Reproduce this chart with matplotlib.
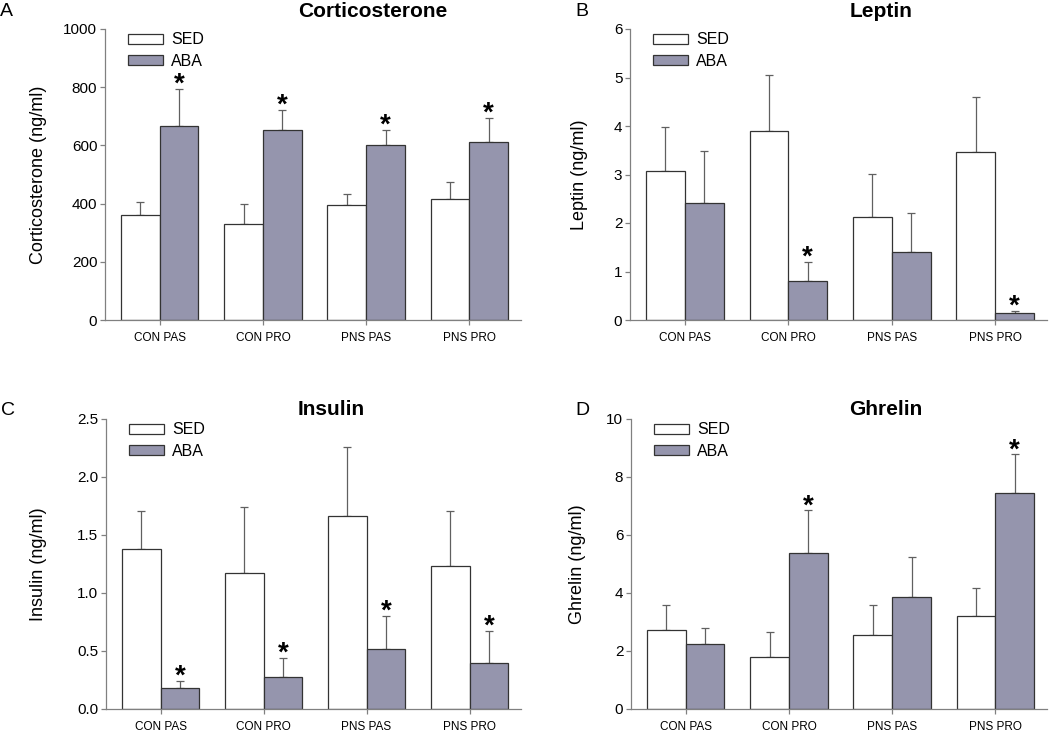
import matplotlib
matplotlib.use("Agg")
import matplotlib.pyplot as plt
import numpy as np

plt.rcParams['font.family'] = ['Liberation Sans', 'DejaVu Sans']

categories = ["CON PAS", "CON PRO", "PNS PAS", "PNS PRO"]
series_names = ["SED", "ABA"]

# Corticosterone
cort_sed = [362, 329, 395, 415]
cort_sed_err = [44, 69, 37, 59]
cort_aba = [668, 652, 602, 613]
cort_aba_err = [126, 70, 50, 81]
cort_sig = [True, True, True, True]

# Leptin
lep_sed = [3.08, 3.89, 2.12, 3.46]
lep_sed_err = [0.90, 1.17, 0.90, 1.14]
lep_aba = [2.42, 0.81, 1.40, 0.14]
lep_aba_err = [1.06, 0.39, 0.81, 0.05]
lep_sig = [False, True, False, True]

# Insulin
ins_sed = [1.38, 1.17, 1.66, 1.23]
ins_sed_err = [0.33, 0.57, 0.60, 0.48]
ins_aba = [0.18, 0.28, 0.52, 0.40]
ins_aba_err = [0.06, 0.16, 0.28, 0.27]
ins_sig = [True, True, True, True]

# Ghrelin
ghr_sed = [2.72, 1.80, 2.55, 3.20]
ghr_sed_err = [0.86, 0.85, 1.04, 0.98]
ghr_aba = [2.24, 5.39, 3.86, 7.45]
ghr_aba_err = [0.55, 1.46, 1.39, 1.33]
ghr_sig = [False, True, False, True]

panels = [
    dict(letter="A", title="Corticosterone", ylabel="Corticosterone (ng/ml)",
         sed=cort_sed, sed_err=cort_sed_err, aba=cort_aba, aba_err=cort_aba_err, sig=cort_sig,
         ylim=(0, 1000), yticks=[0, 200, 400, 600, 800, 1000], fmt="{:.0f}",
         rect=[105, 29, 521, 320], title_x=373, title_y=17, letter_x=0, letter_y=16, ylab_x=-0.139),
    dict(letter="B", title="Leptin", ylabel="Leptin (ng/ml)",
         sed=lep_sed, sed_err=lep_sed_err, aba=lep_aba, aba_err=lep_aba_err, sig=lep_sig,
         ylim=(0, 6), yticks=[0, 1, 2, 3, 4, 5, 6], fmt="{:.0f}",
         rect=[630, 29, 1047, 320], title_x=881, title_y=17, letter_x=575, letter_y=16, ylab_x=-0.10),
    dict(letter="C", title="Insulin", ylabel="Insulin (ng/ml)",
         sed=ins_sed, sed_err=ins_sed_err, aba=ins_aba, aba_err=ins_aba_err, sig=ins_sig,
         ylim=(0, 2.5), yticks=[0, 0.5, 1.0, 1.5, 2.0, 2.5], fmt="{:.1f}",
         rect=[106, 419, 521, 709], title_x=331, title_y=415, letter_x=1, letter_y=415, ylab_x=-0.142),
    dict(letter="D", title="Ghrelin", ylabel="Ghrelin (ng/ml)",
         sed=ghr_sed, sed_err=ghr_sed_err, aba=ghr_aba, aba_err=ghr_aba_err, sig=ghr_sig,
         ylim=(0, 10), yticks=[0, 2, 4, 6, 8, 10], fmt="{:.0f}",
         rect=[631, 419, 1047, 709], title_x=886, title_y=415, letter_x=575, letter_y=415, ylab_x=-0.108),
]

W, H = 1050, 731
fig = plt.figure(figsize=(W / 100, H / 100), dpi=100)

ABA_COLOR = "#9595ad"
EDGE = "#333333"
AXC = "#808080"
ERRC = "#606060"
width = 0.375

for p in panels:
    x0, y0, x1, y1 = p["rect"]
    ax = fig.add_axes([x0 / W, (H - y1) / H, (x1 - x0) / W, (y1 - y0) / H])
    x = np.arange(len(categories))
    ax.bar(x - width / 2, p["sed"], width, color="white", edgecolor=EDGE, linewidth=0.9, label=series_names[0], zorder=2)
    ax.bar(x + width / 2, p["aba"], width, color=ABA_COLOR, edgecolor=EDGE, linewidth=0.9, label=series_names[1], zorder=2)
    zeros = np.zeros(len(categories))
    ax.errorbar(x - width / 2, p["sed"], yerr=[zeros, p["sed_err"]], fmt="none", ecolor=ERRC,
                elinewidth=0.9, capsize=3, capthick=0.9, zorder=1)
    ax.errorbar(x + width / 2, p["aba"], yerr=[zeros, p["aba_err"]], fmt="none", ecolor=ERRC,
                elinewidth=0.9, capsize=3, capthick=0.9, zorder=1)
    for i, s in enumerate(p["sig"]):
        if s:
            ax.annotate("*", (x[i] + width / 2, p["aba"][i] + p["aba_err"][i]), xytext=(0, -2),
                        textcoords="offset points", ha="center", va="baseline",
                        fontsize=20, fontweight="bold", color="black")
    ax.set_xlim(-0.53, 3.5)
    ax.set_ylim(*p["ylim"])
    ax.set_xticks(x)
    ax.set_xticklabels(categories, fontsize=8.5)
    ax.set_yticks(p["yticks"])
    ax.set_yticklabels([p["fmt"].format(v) for v in p["yticks"]], fontsize=11)
    for side in ["top", "right"]:
        ax.spines[side].set_visible(False)
    for side in ["left", "bottom"]:
        ax.spines[side].set_color(AXC)
        ax.spines[side].set_linewidth(0.9)
    ax.tick_params(axis="both", direction="out", length=3.5, width=0.9, color=AXC)
    ax.tick_params(axis="x", pad=5)
    ax.tick_params(axis="y", pad=2)
    ax.set_ylabel(p["ylabel"], fontsize=13)
    ax.yaxis.set_label_coords(p["ylab_x"], 0.5)
    ax.legend(loc="upper left", bbox_to_anchor=(0.04, 1.01), frameon=False, fontsize=11.5,
              handlelength=2.2, handleheight=0.55, handletextpad=0.5, labelspacing=0.4,
              borderaxespad=0)
    fig.text(p["title_x"] / W, (H - p["title_y"]) / H, p["title"], ha="center", va="baseline",
             fontsize=15, fontweight="bold")
    fig.text(p["letter_x"] / W, (H - p["letter_y"]) / H, p["letter"], ha="left", va="baseline",
             fontsize=14)

fig.savefig("out.png", dpi=100)
